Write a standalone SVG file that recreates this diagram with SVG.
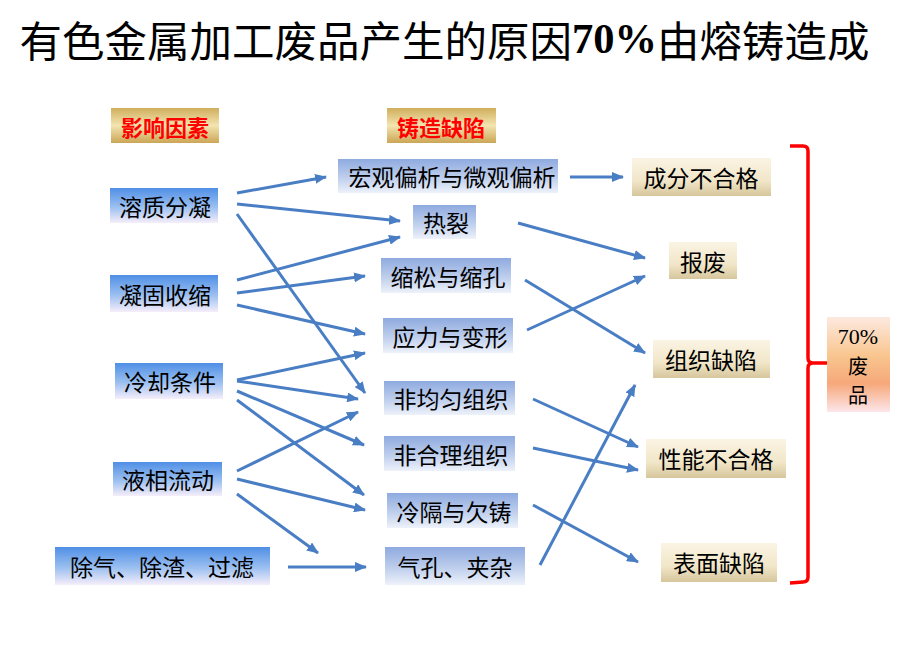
<svg xmlns="http://www.w3.org/2000/svg" width="900" height="664" viewBox="0 0 900 664">
<defs>
<linearGradient id="gLeft" x1="0" y1="0" x2="0" y2="1">
<stop offset="0" stop-color="#4f8fe6"/><stop offset="0.55" stop-color="#9cc0f0"/><stop offset="1" stop-color="#f6eefa"/>
</linearGradient>
<linearGradient id="gMid" x1="0" y1="0" x2="0" y2="1">
<stop offset="0" stop-color="#8eaadf"/><stop offset="0.6" stop-color="#c3d2ee"/><stop offset="1" stop-color="#eef2fa"/>
</linearGradient>
<linearGradient id="gRight" x1="0" y1="0" x2="0" y2="1">
<stop offset="0" stop-color="#fbf4e4"/><stop offset="0.6" stop-color="#f1e6c8"/><stop offset="1" stop-color="#d6c69c"/>
</linearGradient>
<linearGradient id="gGold" x1="0" y1="0" x2="0" y2="1">
<stop offset="0" stop-color="#cfae5c"/><stop offset="0.5" stop-color="#f3e4b0"/><stop offset="1" stop-color="#cba656"/>
</linearGradient>
<linearGradient id="gOrange" x1="0" y1="0" x2="0" y2="1">
<stop offset="0" stop-color="#fde9e0"/><stop offset="0.4" stop-color="#f9c690"/><stop offset="0.7" stop-color="#f6a87a"/><stop offset="1" stop-color="#fde6ea"/>
</linearGradient>
<marker id="ah" markerUnits="userSpaceOnUse" markerWidth="12" markerHeight="10" refX="11" refY="5" orient="auto">
<path d="M0,0 L12,5 L0,10 z" fill="#4a7ec4"/>
</marker>
<style>
.t{font-family:"Noto Sans CJK SC","Liberation Sans",sans-serif;font-size:23px;fill:#000;text-anchor:middle;dominant-baseline:central}
.s{font-family:"Noto Sans CJK SC","Liberation Sans",sans-serif;font-size:20px;fill:#000;text-anchor:middle;dominant-baseline:central}
.h{font-family:"Noto Sans CJK SC","Liberation Sans",sans-serif;font-size:22px;fill:#ff0000;font-weight:bold;text-anchor:middle;dominant-baseline:central}
.c line{stroke:#4a7ec4;stroke-width:3;marker-end:url(#ah)}
.l{fill:url(#gLeft)}
.m{fill:url(#gMid)}
.r{fill:url(#gRight)}
</style>
</defs>
<rect width="900" height="664" fill="#ffffff"/>
<text x="444.5" y="38" style="font-family:'Noto Sans CJK SC',sans-serif;font-size:42.5px;text-anchor:middle;dominant-baseline:central" fill="#000">有色金属加工废品产生的原因<tspan style="font-family:'Liberation Serif',serif;font-weight:bold">70%</tspan>由熔铸造成</text>

<g id="hdr-left"><rect x="111" y="108" width="108" height="35" fill="url(#gGold)"/><text class="h" x="165" y="126">影响因素</text></g>
<g id="hdr-mid"><rect x="387" y="108" width="109" height="35" fill="url(#gGold)"/><text class="h" x="441" y="126">铸造缺陷</text></g>

<g id="n-rzfn"><rect class="l" x="110" y="188" width="108" height="35"/><text class="t" x="165" y="206">溶质分凝</text></g>
<g id="n-ngss"><rect class="l" x="110" y="275" width="108" height="37"/><text class="t" x="165" y="294">凝固收缩</text></g>
<g id="n-lqtj"><rect class="l" x="115" y="363" width="108" height="36"/><text class="t" x="170" y="381">冷却条件</text></g>
<g id="n-yxld"><rect class="l" x="113" y="462" width="109" height="34"/><text class="t" x="168" y="479">液相流动</text></g>
<g id="n-cq"><rect class="l" x="55" y="547" width="215" height="38"/><text class="t" x="162" y="566">除气、除渣、过滤</text></g>

<g id="n-hgpx"><rect class="m" x="338" y="159" width="220" height="34"/><text class="t" x="452" y="176">宏观偏析与微观偏析</text></g>
<g id="n-rl"><rect class="m" x="413" y="205" width="63" height="34"/><text class="t" x="446" y="222">热裂</text></g>
<g id="n-ss"><rect class="m" x="381" y="258" width="130" height="35"/><text class="t" x="448" y="276">缩松与缩孔</text></g>
<g id="n-yl"><rect class="m" x="383" y="318" width="130" height="35"/><text class="t" x="450" y="336">应力与变形</text></g>
<g id="n-fjy"><rect class="m" x="384" y="381" width="131" height="34"/><text class="t" x="451" y="398">非均匀组织</text></g>
<g id="n-fhl"><rect class="m" x="384" y="436" width="131" height="35"/><text class="t" x="451" y="454">非合理组织</text></g>
<g id="n-lg"><rect class="m" x="387" y="493" width="131" height="35"/><text class="t" x="454" y="511">冷隔与欠铸</text></g>
<g id="n-qk"><rect class="m" x="385" y="547" width="140" height="38"/><text class="t" x="455" y="566">气孔、夹杂</text></g>

<g id="n-cfbhg"><rect class="r" x="632" y="158" width="139" height="38"/><text class="t" x="701" y="177">成分不合格</text></g>
<g id="n-bf"><rect class="r" x="669" y="242" width="68" height="37"/><text class="t" x="703" y="261">报废</text></g>
<g id="n-zzqx"><rect class="r" x="653" y="340" width="117" height="38"/><text class="t" x="711" y="359">组织缺陷</text></g>
<g id="n-xnbhg"><rect class="r" x="646" y="439" width="140" height="39"/><text class="t" x="716" y="458">性能不合格</text></g>
<g id="n-bmqx"><rect class="r" x="661" y="543" width="116" height="39"/><text class="t" x="719" y="562">表面缺陷</text></g>

<g id="n-70"><rect x="827" y="317" width="63" height="95" fill="url(#gOrange)"/>
<text class="s" x="858" y="336" style="font-family:'Liberation Serif',serif;font-size:22px">70%</text>
<text class="s" x="858" y="365">废</text>
<text class="s" x="858" y="394">品</text></g>

<g id="bracket"><path d="M790,146 L803,146 Q808,146 808,151 L808,358 Q808,363 813,363 L827,363 M813,363 Q808,363 808,368 L808,577 Q808,582 803,582 L790,583" fill="none" stroke="#ff0000" stroke-width="3.5"/></g>

<g id="connectors" class="c">
<line x1="237" y1="193" x2="326" y2="177"/>
<line x1="237" y1="204" x2="400" y2="221"/>
<line x1="237" y1="214" x2="365" y2="393"/>
<line x1="237" y1="280" x2="400" y2="237"/>
<line x1="237" y1="293" x2="365" y2="276"/>
<line x1="237" y1="305" x2="365" y2="334"/>
<line x1="237" y1="380" x2="365" y2="353"/>
<line x1="237" y1="381" x2="358" y2="399"/>
<line x1="237" y1="391" x2="364" y2="445"/>
<line x1="237" y1="400" x2="364" y2="495"/>
<line x1="237" y1="471" x2="358" y2="412"/>
<line x1="237" y1="479" x2="365" y2="510"/>
<line x1="237" y1="494" x2="318" y2="553"/>
<line x1="288" y1="567" x2="366" y2="567"/>
<line x1="570" y1="177" x2="623" y2="177"/>
<line x1="518" y1="223" x2="645" y2="258"/>
<line x1="527" y1="330" x2="645" y2="276"/>
<line x1="525" y1="280" x2="645" y2="353"/>
<line x1="533" y1="399" x2="638" y2="447"/>
<line x1="533" y1="448" x2="638" y2="470"/>
<line x1="533" y1="505" x2="638" y2="562"/>
<line x1="540" y1="565" x2="635" y2="385"/>
</g>
</svg>
